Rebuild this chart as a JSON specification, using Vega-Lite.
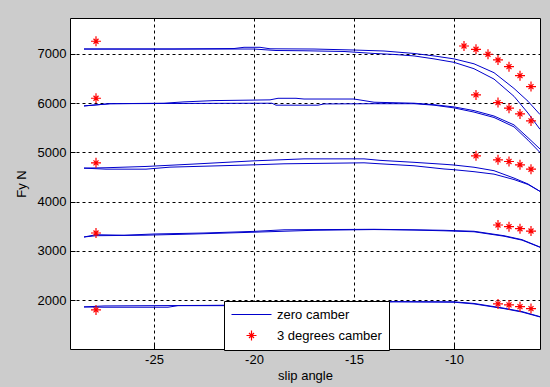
{
  "$schema": "https://vega.github.io/schema/vega-lite/v6.json",
  "width": 470,
  "height": 331,
  "autosize": {"type": "none"},
  "padding": {"left": 70, "top": 18, "right": 10, "bottom": 38},
  "background": "#cccccc",
  "config": {
    "view": {"fill": "white", "stroke": "black", "strokeWidth": 1},
    "font": "Liberation Sans",
    "axis": {
      "labelFont": "Liberation Sans", "labelFontSize": 13, "labelColor": "black",
      "titleFont": "Liberation Sans", "titleFontSize": 13, "titleFontWeight": "normal", "titleColor": "black",
      "grid": true, "gridColor": "black", "gridDash": [3, 3], "gridOpacity": 1, "gridWidth": 1,
      "domain": false, "ticks": true, "tickColor": "black", "tickSize": -5, "labelPadding": 9,
      "labelExpr": "'' + datum.value"
    }
  },
  "datasets": {
    "lines": [
      {"series": "g1a", "x": -28.5, "y": 7100}, {"series": "g1a", "x": -24, "y": 7100}, {"series": "g1a", "x": -21, "y": 7110}, {"series": "g1a", "x": -20.5, "y": 7135}, {"series": "g1a", "x": -19.7, "y": 7135}, {"series": "g1a", "x": -19.2, "y": 7105}, {"series": "g1a", "x": -17, "y": 7100}, {"series": "g1a", "x": -15, "y": 7080}, {"series": "g1a", "x": -13.5, "y": 7060}, {"series": "g1a", "x": -12, "y": 7010}, {"series": "g1a", "x": -11, "y": 6960}, {"series": "g1a", "x": -10, "y": 6900}, {"series": "g1a", "x": -9, "y": 6800}, {"series": "g1a", "x": -8, "y": 6620}, {"series": "g1a", "x": -7, "y": 6300}, {"series": "g1a", "x": -6.3, "y": 6040}, {"series": "g1a", "x": -5.7, "y": 5770},
      {"series": "g1b", "x": -28.5, "y": 7100}, {"series": "g1b", "x": -20, "y": 7100}, {"series": "g1b", "x": -18.9, "y": 7070}, {"series": "g1b", "x": -17.5, "y": 7065}, {"series": "g1b", "x": -15.5, "y": 7050}, {"series": "g1b", "x": -14, "y": 7010}, {"series": "g1b", "x": -13, "y": 6990}, {"series": "g1b", "x": -12, "y": 6960}, {"series": "g1b", "x": -11, "y": 6900}, {"series": "g1b", "x": -10, "y": 6830}, {"series": "g1b", "x": -9, "y": 6700}, {"series": "g1b", "x": -8, "y": 6490}, {"series": "g1b", "x": -7, "y": 6140}, {"series": "g1b", "x": -6.3, "y": 5800}, {"series": "g1b", "x": -5.7, "y": 5470},
      {"series": "g2a", "x": -28.5, "y": 5945}, {"series": "g2a", "x": -27.2, "y": 5990}, {"series": "g2a", "x": -24.5, "y": 6000}, {"series": "g2a", "x": -23.5, "y": 6027}, {"series": "g2a", "x": -22, "y": 6053}, {"series": "g2a", "x": -19.2, "y": 6068}, {"series": "g2a", "x": -18.8, "y": 6100}, {"series": "g2a", "x": -17.9, "y": 6100}, {"series": "g2a", "x": -17.5, "y": 6085}, {"series": "g2a", "x": -15, "y": 6085}, {"series": "g2a", "x": -14, "y": 6020}, {"series": "g2a", "x": -12, "y": 6000}, {"series": "g2a", "x": -11, "y": 5970}, {"series": "g2a", "x": -10, "y": 5925}, {"series": "g2a", "x": -9, "y": 5850}, {"series": "g2a", "x": -8, "y": 5740}, {"series": "g2a", "x": -7, "y": 5560}, {"series": "g2a", "x": -6.3, "y": 5300}, {"series": "g2a", "x": -5.7, "y": 5070},
      {"series": "g2b", "x": -28.5, "y": 5945}, {"series": "g2b", "x": -27.2, "y": 5990}, {"series": "g2b", "x": -24, "y": 5995}, {"series": "g2b", "x": -19.1, "y": 6000}, {"series": "g2b", "x": -18.9, "y": 5960}, {"series": "g2b", "x": -16.8, "y": 5960}, {"series": "g2b", "x": -16.5, "y": 5985}, {"series": "g2b", "x": -14, "y": 5990}, {"series": "g2b", "x": -12, "y": 5990}, {"series": "g2b", "x": -11, "y": 5960}, {"series": "g2b", "x": -10, "y": 5905}, {"series": "g2b", "x": -9, "y": 5820}, {"series": "g2b", "x": -8, "y": 5710}, {"series": "g2b", "x": -7, "y": 5520}, {"series": "g2b", "x": -6.3, "y": 5250}, {"series": "g2b", "x": -5.7, "y": 5000},
      {"series": "g3a", "x": -28.5, "y": 4682}, {"series": "g3a", "x": -27.4, "y": 4690}, {"series": "g3a", "x": -25.4, "y": 4716}, {"series": "g3a", "x": -23.1, "y": 4763}, {"series": "g3a", "x": -20, "y": 4830}, {"series": "g3a", "x": -17.5, "y": 4870}, {"series": "g3a", "x": -14.5, "y": 4870}, {"series": "g3a", "x": -13.7, "y": 4840}, {"series": "g3a", "x": -12, "y": 4800}, {"series": "g3a", "x": -10.5, "y": 4760}, {"series": "g3a", "x": -10, "y": 4745}, {"series": "g3a", "x": -9, "y": 4700}, {"series": "g3a", "x": -8, "y": 4630}, {"series": "g3a", "x": -7, "y": 4480}, {"series": "g3a", "x": -6.3, "y": 4360}, {"series": "g3a", "x": -5.7, "y": 4210},
      {"series": "g3b", "x": -28.5, "y": 4682}, {"series": "g3b", "x": -27.4, "y": 4661}, {"series": "g3b", "x": -25.4, "y": 4661}, {"series": "g3b", "x": -24.2, "y": 4702}, {"series": "g3b", "x": -20, "y": 4749}, {"series": "g3b", "x": -18.5, "y": 4770}, {"series": "g3b", "x": -14.5, "y": 4790}, {"series": "g3b", "x": -13.7, "y": 4770}, {"series": "g3b", "x": -12, "y": 4730}, {"series": "g3b", "x": -10.5, "y": 4665}, {"series": "g3b", "x": -10, "y": 4650}, {"series": "g3b", "x": -9, "y": 4610}, {"series": "g3b", "x": -8, "y": 4560}, {"series": "g3b", "x": -7, "y": 4450}, {"series": "g3b", "x": -6.3, "y": 4350}, {"series": "g3b", "x": -5.7, "y": 4210},
      {"series": "g4a", "x": -28.5, "y": 3284}, {"series": "g4a", "x": -27.9, "y": 3330}, {"series": "g4a", "x": -26.5, "y": 3320}, {"series": "g4a", "x": -25, "y": 3345}, {"series": "g4a", "x": -22.5, "y": 3365}, {"series": "g4a", "x": -20, "y": 3398}, {"series": "g4a", "x": -18.5, "y": 3430}, {"series": "g4a", "x": -14, "y": 3440}, {"series": "g4a", "x": -12, "y": 3430}, {"series": "g4a", "x": -10.5, "y": 3420}, {"series": "g4a", "x": -9, "y": 3400}, {"series": "g4a", "x": -7.5, "y": 3310}, {"series": "g4a", "x": -6.6, "y": 3230}, {"series": "g4a", "x": -5.7, "y": 3080},
      {"series": "g4b", "x": -28.5, "y": 3284}, {"series": "g4b", "x": -27.9, "y": 3310}, {"series": "g4b", "x": -25.5, "y": 3320}, {"series": "g4b", "x": -23, "y": 3345}, {"series": "g4b", "x": -20.5, "y": 3375}, {"series": "g4b", "x": -17, "y": 3420}, {"series": "g4b", "x": -14, "y": 3435}, {"series": "g4b", "x": -12, "y": 3425}, {"series": "g4b", "x": -10.5, "y": 3410}, {"series": "g4b", "x": -9, "y": 3390}, {"series": "g4b", "x": -7.5, "y": 3300}, {"series": "g4b", "x": -6.6, "y": 3220}, {"series": "g4b", "x": -5.7, "y": 3075},
      {"series": "g5a", "x": -28.5, "y": 1864}, {"series": "g5a", "x": -27.5, "y": 1884}, {"series": "g5a", "x": -25, "y": 1890}, {"series": "g5a", "x": -22.5, "y": 1895}, {"series": "g5a", "x": -21, "y": 1900}, {"series": "g5a", "x": -18, "y": 1930}, {"series": "g5a", "x": -15, "y": 1960}, {"series": "g5a", "x": -13, "y": 1972}, {"series": "g5a", "x": -10, "y": 1968}, {"series": "g5a", "x": -9, "y": 1935}, {"series": "g5a", "x": -7.5, "y": 1838}, {"series": "g5a", "x": -6.6, "y": 1770}, {"series": "g5a", "x": -5.7, "y": 1667},
      {"series": "g5b", "x": -28.5, "y": 1864}, {"series": "g5b", "x": -27.5, "y": 1858}, {"series": "g5b", "x": -24.3, "y": 1858}, {"series": "g5b", "x": -23.8, "y": 1890}, {"series": "g5b", "x": -21, "y": 1890}, {"series": "g5b", "x": -18, "y": 1920}, {"series": "g5b", "x": -15, "y": 1950}, {"series": "g5b", "x": -13, "y": 1968}, {"series": "g5b", "x": -10, "y": 1960}, {"series": "g5b", "x": -9, "y": 1925}, {"series": "g5b", "x": -7.5, "y": 1830}, {"series": "g5b", "x": -6.6, "y": 1760}, {"series": "g5b", "x": -5.7, "y": 1660}
    ],
    "stars": [
      {"x": -27.9, "y": 7258}, {"x": -9.5, "y": 7162}, {"x": -8.9, "y": 7095}, {"x": -8.3, "y": 6994}, {"x": -7.8, "y": 6878}, {"x": -7.25, "y": 6742}, {"x": -6.7, "y": 6560}, {"x": -6.15, "y": 6337},
      {"x": -27.9, "y": 6101}, {"x": -8.9, "y": 6168}, {"x": -7.8, "y": 6013}, {"x": -7.25, "y": 5899}, {"x": -6.7, "y": 5783}, {"x": -6.15, "y": 5641},
      {"x": -27.9, "y": 4789}, {"x": -8.9, "y": 4932}, {"x": -7.8, "y": 4851}, {"x": -7.25, "y": 4817}, {"x": -6.7, "y": 4750}, {"x": -6.15, "y": 4660},
      {"x": -27.9, "y": 3365}, {"x": -7.8, "y": 3527}, {"x": -7.25, "y": 3493}, {"x": -6.7, "y": 3452}, {"x": -6.15, "y": 3405},
      {"x": -27.9, "y": 1803}, {"x": -7.8, "y": 1925}, {"x": -7.25, "y": 1905}, {"x": -6.7, "y": 1870}, {"x": -6.15, "y": 1830}
    ]
  },
  "layer": [
    {
      "data": {"name": "lines"},
      "mark": {"type": "line", "strokeWidth": 1, "interpolate": "linear"},
      "encoding": {
        "x": {"field": "x", "type": "quantitative", "scale": {"domain": [-29.2, -5.7], "nice": false, "zero": false},
              "axis": {"values": [-25, -20, -15, -10], "title": "slip angle", "titlePadding": 3}},
        "y": {"field": "y", "type": "quantitative", "scale": {"domain": [1010, 7730], "nice": false, "zero": false},
              "axis": {"values": [2000, 3000, 4000, 5000, 6000, 7000], "title": "Fy N", "titlePadding": 9}},
        "detail": {"field": "series"},
        "color": {
          "datum": "zero camber", "type": "nominal",
          "scale": {"domain": ["zero camber", "3 degrees camber"], "range": ["#0000cc", "#ff0000"]},
          "legend": {
            "orient": "none", "legendX": 154, "legendY": 283, "title": null,
            "fillColor": "white", "strokeColor": "black", "padding": 7,
            "labelFont": "Liberation Sans", "labelFontSize": 13, "labelColor": "black", "labelOffset": 19,
            "symbolType": "stroke", "symbolSize": 1600, "symbolStrokeWidth": 1, "rowPadding": 6, "symbolOffset": 14,
            "encode": {
              "symbols": {
                "update": {
                  "shape": {"signal": "datum.value === 'zero camber' ? 'stroke' : 'M-1,0L1,0M0,-1L0,1M-0.5,-0.5L0.5,0.5M-0.5,0.5L0.5,-0.5'"},
                  "size": {"signal": "datum.value === 'zero camber' ? 1600 : 100"},
                  "stroke": {"signal": "datum.value === 'zero camber' ? '#0000cc' : '#ff0000'"},
                  "fill": {"value": "transparent"},
                  "strokeWidth": {"value": 1.2}
                }
              }
            }
          }
        }
      }
    },
    {
      "data": {"name": "stars"},
      "mark": {"type": "point", "shape": "M-1,0L1,0M0,-1L0,1M-0.5,-0.5L0.5,0.5M-0.5,0.5L0.5,-0.5", "filled": false, "size": 100, "strokeWidth": 1.2, "opacity": 1},
      "encoding": {
        "x": {"field": "x", "type": "quantitative"},
        "y": {"field": "y", "type": "quantitative"},
        "color": {"datum": "3 degrees camber", "type": "nominal"}
      }
    }
  ]
}
